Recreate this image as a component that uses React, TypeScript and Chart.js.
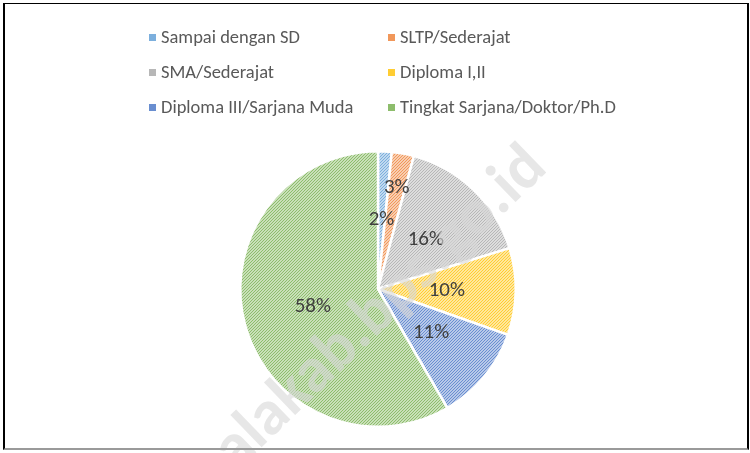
import React, { useEffect, useRef } from "react";
import { Chart, registerables } from "chart.js";
Chart.register(...registerables);

const categories = [
  "Sampai dengan SD",
  "SLTP/Sederajat",
  "SMA/Sederajat",
  "Diploma I,II",
  "Diploma III/Sarjana Muda",
  "Tingkat Sarjana/Doktor/Ph.D",
];
const shares = [1.6, 2.6, 16.0, 10.2, 11.2, 58.4];
const pctLabels = ["2%", "3%", "16%", "10%", "11%", "58%"];
const colors = ["#5B9BD5", "#ED7D31", "#A5A5A5", "#FFC000", "#4472C4", "#70AD47"];
const watermark = "alakab.bps.go.id";

const FONT = "Carlito, Lato, 'Open Sans', sans-serif";

function mix(hex: string, t: number) {
  const n = parseInt(hex.slice(1), 16);
  const r = (n >> 16) & 255, g = (n >> 8) & 255, b = n & 255;
  const m = (c: number) => Math.round(c + (255 - c) * t);
  return `rgb(${m(r)},${m(g)},${m(b)})`;
}

function hatch(ctx: CanvasRenderingContext2D, color: string) {
  const c = document.createElement("canvas");
  c.width = 3;
  c.height = 3;
  const g = c.getContext("2d")!;
  g.fillStyle = mix(color, 0.62);
  g.fillRect(0, 0, 3, 3);
  g.strokeStyle = mix(color, 0.2);
  g.lineWidth = 1;
  g.beginPath();
  g.moveTo(-1, 4); g.lineTo(4, -1);
  g.moveTo(-1, 1); g.lineTo(1, -1);
  g.moveTo(2, 4); g.lineTo(4, 2);
  g.stroke();
  return ctx.createPattern(c, "repeat")!;
}

const labelRadius = [0.5, 0.75, 0.5, 0.5, 0.5, 0.49];

const overlayPlugin = {
  id: "overlay",
  afterDraw(chart: any) {
    const ctx: CanvasRenderingContext2D = chart.ctx;
    const meta = chart.getDatasetMeta(0);
    ctx.save();
    // data labels
    ctx.font = `21px ${FONT}`;
    ctx.fillStyle = "#404040";
    ctx.textAlign = "center";
    ctx.textBaseline = "middle";
    meta.data.forEach((arc: any, i: number) => {
      const mid = (arc.startAngle + arc.endAngle) / 2;
      const r = arc.outerRadius * labelRadius[i];
      ctx.fillText(pctLabels[i], arc.x + Math.cos(mid) * r, arc.y + Math.sin(mid) * r);
    });
    // legend
    const colX = [149, 388];
    const rowY = [38, 73, 108];
    ctx.font = `18.5px ${FONT}`;
    ctx.textAlign = "left";
    categories.forEach((name, i) => {
      const x = colX[i % 2];
      const y = rowY[Math.floor(i / 2)];
      ctx.fillStyle = mix(colors[i], 0.2);
      ctx.fillRect(x, y - 4, 7, 7);
      ctx.fillStyle = "#595959";
      ctx.fillText(name, x + 12, y);
    });
    // watermark
    ctx.translate(236, 472);
    ctx.rotate((-44 * Math.PI) / 180);
    ctx.font = `bold 64px ${FONT}`;
    ctx.fillStyle = "rgba(215,215,215,0.6)";
    ctx.textAlign = "left";
    ctx.textBaseline = "alphabetic";
    ctx.fillText(watermark, 0, 0);
    ctx.restore();
  },
};

export default function App() {
  const ref = useRef<HTMLCanvasElement>(null);
  useEffect(() => {
    document.body.style.margin = "0";
    const ctx = ref.current!.getContext("2d")!;
    const chart = new Chart(ctx, {
      type: "pie",
      data: {
        labels: categories,
        datasets: [
          {
            data: shares,
            backgroundColor: colors.map((c) => hatch(ctx, c)),
            borderColor: "#ffffff",
            borderWidth: 2.5,
          },
        ],
      },
      options: {
        animation: false,
        responsive: false,
        events: [],
        layout: { padding: { left: 239, right: 233, top: 149, bottom: 24 } },
        plugins: { legend: { display: false }, tooltip: { enabled: false } },
      },
      plugins: [overlayPlugin],
    });
    return () => chart.destroy();
  }, []);
  return (
    <div style={{ position: "absolute", left: 0, top: 0, width: 750, height: 453, background: "#fff" }}>
      <canvas ref={ref} width={750} height={453} style={{ position: "absolute", left: 0, top: 0 }} />
      <div
        style={{
          position: "absolute",
          left: 3,
          top: 3,
          width: 746,
          height: 447,
          borderTop: "1.5px solid #000",
          borderLeft: "2px solid #000",
          borderRight: "2px solid #000",
          borderBottom: "2px solid #9a9a9a",
          boxSizing: "border-box",
          pointerEvents: "none",
        }}
      />
    </div>
  );
}
